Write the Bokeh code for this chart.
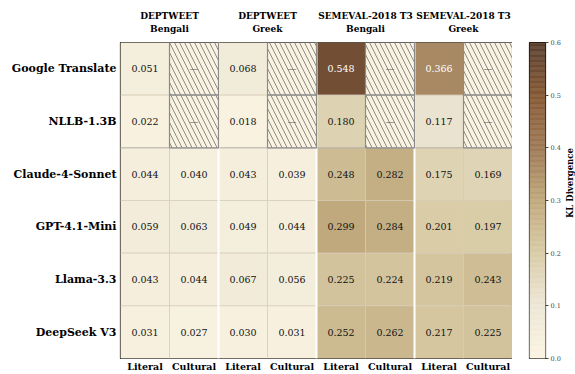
import numpy as np
from bokeh.plotting import figure
from bokeh.models import ColumnDataSource, LinearColorMapper, FixedTicker, LinearAxis, Range1d
from bokeh.transform import transform
from bokeh.layouts import row
from bokeh.embed import file_html
from bokeh.resources import INLINE
from bokeh.core.properties import value

# ---------------- data ----------------
models = ["Google Translate", "NLLB-1.3B", "Claude-4-Sonnet", "GPT-4.1-Mini", "Llama-3.3", "DeepSeek V3"]
datasets = ["DEPTWEET", "DEPTWEET", "SEMEVAL-2018 T3", "SEMEVAL-2018 T3"]
languages = ["Bengali", "Greek", "Bengali", "Greek"]
conditions = ["Literal", "Cultural", "Literal", "Cultural", "Literal", "Cultural", "Literal", "Cultural"]

google_translate = [0.051, None, 0.068, None, 0.548, None, 0.366, None]
nllb = [0.022, None, 0.018, None, 0.180, None, 0.117, None]
claude = [0.044, 0.040, 0.043, 0.039, 0.248, 0.282, 0.175, 0.169]
gpt = [0.059, 0.063, 0.049, 0.044, 0.299, 0.284, 0.201, 0.197]
llama = [0.043, 0.044, 0.067, 0.056, 0.225, 0.224, 0.219, 0.243]
deepseek = [0.031, 0.027, 0.030, 0.031, 0.252, 0.262, 0.217, 0.225]
matrix = [google_translate, nllb, claude, gpt, llama, deepseek]

kl_ticks = [0.0, 0.1, 0.2, 0.3, 0.4, 0.5, 0.6]
kl_low, kl_high = 0.0, 0.6
colorbar_title = "KL Divergence"

# ---------------- colormap ----------------
stops = [0.0, 0.1, 0.2, 0.3, 0.4, 0.5, 0.6]
stop_hex = ["#fbf4e2", "#ede7d6", "#d9cca7", "#c0a97c", "#9e7a57", "#875a36", "#5b4131"]


def hex2rgb(h):
    return [int(h[i:i + 2], 16) for i in (1, 3, 5)]


rgb = np.array([hex2rgb(h) for h in stop_hex], dtype=float)
grid = np.linspace(kl_low, kl_high, 256)
pal = []
for g in grid:
    r = np.interp(g, stops, rgb[:, 0])
    gg = np.interp(g, stops, rgb[:, 1])
    b = np.interp(g, stops, rgb[:, 2])
    pal.append("#%02x%02x%02x" % (int(round(r)), int(round(gg)), int(round(b))))
mapper = LinearColorMapper(palette=pal, low=kl_low, high=kl_high)

FONT = "DejaVu Serif"

# ---------------- cells ----------------
xs, ys, vals, labels, tcolors = [], [], [], [], []
hx, hy = [], []
for i, rowvals in enumerate(matrix):
    for j, v in enumerate(rowvals):
        if v is None:
            hx.append(j + 0.5)
            hy.append(i + 0.5)
        else:
            xs.append(j + 0.5)
            ys.append(i + 0.5)
            vals.append(v)
            labels.append("%.3f" % v)
            tcolors.append("white" if v > 0.33 else "#111111")

src = ColumnDataSource(dict(x=xs, y=ys, v=vals, label=labels, tc=tcolors))
hsrc = ColumnDataSource(dict(x=hx, y=hy, label=["\u2014"] * len(hx)))

p = figure(width=512, height=374, x_range=Range1d(0, 8), y_range=Range1d(6, 0),
           output_backend="svg", toolbar_location=None,
           min_border_left=120, min_border_right=0, min_border_top=42, min_border_bottom=15)
p.grid.visible = False
p.outline_line_color = "black"
p.outline_line_width = 1.2
p.background_fill_color = "white"

p.rect(x="x", y="y", width=1, height=1, source=src, fill_color=transform("v", mapper),
       line_color="#d6ccb6", line_width=0.7)

# white separators between dataset/language groups
p.segment(x0=[2, 4, 6], y0=[0, 0, 0], x1=[2, 4, 6], y1=[6, 6, 6], line_color="white", line_width=2)

# hatched missing cells
p.rect(x="x", y="y", width=1, height=1, source=hsrc, fill_color="#faf3e1",
       line_color="#8a8a8a", line_width=1.2,
       hatch_pattern="\\", hatch_color="#6e6e6e", hatch_scale=10, hatch_weight=0.8)

# dotted separator between MT systems and LLMs
p.segment(x0=[0], y0=[2], x1=[8], y1=[2], line_color="#999999", line_width=1, line_dash="1 1")

p.text(x="x", y="y", text="label", source=src, text_color="tc", text_align="center",
       text_baseline="middle", text_font=value(FONT), text_font_size="9.5px")
p.text(x="x", y="y", text="label", source=hsrc, text_color="#555555", text_align="center",
       text_baseline="middle", text_font=value(FONT), text_font_size="9px")

# axes
p.xaxis.ticker = FixedTicker(ticks=[j + 0.5 for j in range(8)])
p.xaxis.major_label_overrides = {j + 0.5: c for j, c in enumerate(conditions)}
p.yaxis.ticker = FixedTicker(ticks=[i + 0.5 for i in range(6)])
p.yaxis.major_label_overrides = {i + 0.5: m for i, m in enumerate(models)}
for ax in (p.xaxis, p.yaxis):
    ax.axis_line_color = None
    ax.major_tick_line_color = None
    ax.minor_tick_line_color = None
    ax.major_tick_in = 0
    ax.major_tick_out = 0
    ax.major_label_text_font = FONT
    ax.major_label_text_font_style = "bold"
    ax.major_label_text_color = "black"
p.xaxis.major_label_text_font_size = "9.5px"
p.xaxis.major_label_standoff = 2
p.yaxis.major_label_text_font_size = "11px"
p.yaxis.major_label_standoff = 4

lang_axis = LinearAxis(ticker=FixedTicker(ticks=[1.0, 3.0, 5.0, 7.0]),
                       major_label_overrides={float(2 * k + 1): languages[k] for k in range(4)})
ds_axis = LinearAxis(ticker=FixedTicker(ticks=[1.0, 3.0, 5.0, 7.0]),
                     major_label_overrides={float(2 * k + 1): datasets[k] for k in range(4)})
for ax, so in ((lang_axis, 9), (ds_axis, 0)):
    ax.axis_line_color = None
    ax.major_tick_line_color = None
    ax.minor_tick_line_color = None
    ax.major_tick_in = 0
    ax.major_tick_out = 0
    ax.major_label_text_font = FONT
    ax.major_label_text_font_style = "bold"
    ax.major_label_text_font_size = "9px"
    ax.major_label_text_color = "black"
    ax.major_label_standoff = so
    p.add_layout(ax, "above")

# ---------------- colorbar ----------------
cb = figure(width=51, height=374, x_range=Range1d(0, 1), y_range=Range1d(kl_low, kl_high),
            output_backend="svg", toolbar_location=None, y_axis_location="right",
            min_border_left=17, min_border_right=17, min_border_top=42, min_border_bottom=15)
cb.grid.visible = False
cb.xaxis.visible = False
cb.outline_line_color = "black"
cb.outline_line_width = 1.2
edges = np.linspace(kl_low, kl_high, len(pal) + 1)
cb.quad(left=0, right=1, bottom=edges[:-1], top=edges[1:], fill_color=pal, line_color=pal, line_width=0.5)
cb.yaxis.ticker = FixedTicker(ticks=kl_ticks)
cb.yaxis.major_label_overrides = {t: "%.1f" % t for t in kl_ticks}
cb.yaxis.axis_line_color = None
cb.yaxis.minor_tick_line_color = None
cb.yaxis.major_tick_in = 0
cb.yaxis.major_tick_out = 3
cb.yaxis.major_tick_line_color = "#444444"
cb.yaxis.major_label_standoff = 2
cb.yaxis.major_label_text_font = FONT
cb.yaxis.major_label_text_font_size = "6.5px"
cb.yaxis.major_label_text_color = "#444444"

# colorbar title in its own narrow panel
lab = figure(width=12, height=374, x_range=Range1d(0, 1), y_range=Range1d(kl_low, kl_high),
             output_backend="svg", toolbar_location=None,
             min_border_left=0, min_border_right=0, min_border_top=42, min_border_bottom=15)
lab.axis.visible = False
lab.grid.visible = False
lab.outline_line_color = None
lab.text(x=[0.5], y=[0.333], text=[colorbar_title], angle=np.pi / 2, text_align="center",
         text_baseline="middle", text_font=value(FONT), text_font_style="bold",
         text_font_size="8.5px", text_color="black")

layout = row(p, cb, lab)
open("out.html", "w").write(file_html(layout, INLINE))
